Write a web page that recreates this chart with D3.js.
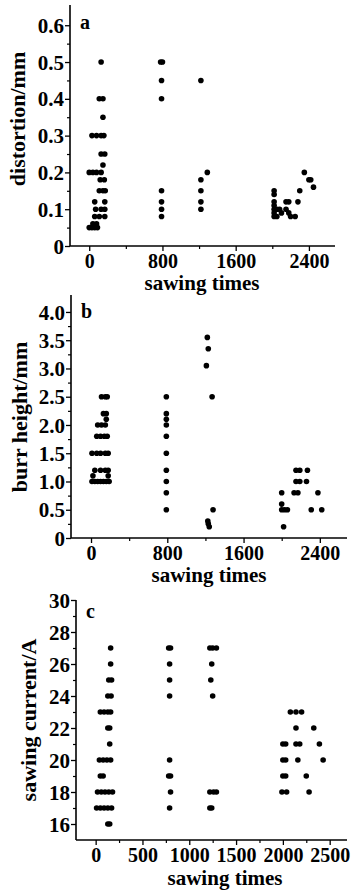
<!DOCTYPE html>
<html>
<head>
<meta charset="utf-8">
<script src="https://cdn.jsdelivr.net/npm/d3@7"></script>
<style>
  body { margin: 0; background: #fff; }
  svg text { font-family: "Liberation Serif", "Times New Roman", serif; font-weight: bold; fill: #000; }
</style>
</head>
<body>
<svg id="chart" width="352" height="894"></svg>
<script>
(function() {

  // [sawing times, value]
  var distortionPoints = [
    [130, 0.50], [110, 0.40], [150, 0.40], [150, 0.35],
    [30, 0.30], [80, 0.30], [130, 0.30], [160, 0.30],
    [130, 0.25], [170, 0.25], [150, 0.22],
    [0, 0.20], [40, 0.20], [80, 0.20], [130, 0.20],
    [120, 0.18], [165, 0.18], [110, 0.15], [150, 0.15], [175, 0.15],
    [60, 0.12], [170, 0.12], [70, 0.10], [130, 0.10], [170, 0.10],
    [60, 0.08], [110, 0.08], [170, 0.08], [40, 0.06], [80, 0.06],
    [0, 0.05], [30, 0.05], [60, 0.05], [90, 0.05],
    [780, 0.50], [800, 0.50], [790, 0.45], [790, 0.40],
    [790, 0.15], [790, 0.12], [790, 0.10], [790, 0.08],
    [1220, 0.45], [1220, 0.18], [1290, 0.20], [1220, 0.15], [1220, 0.12], [1220, 0.10],
    [2020, 0.15], [2020, 0.14], [2020, 0.12], [2020, 0.11], [2020, 0.10], [2020, 0.09], [2020, 0.08],
    [2050, 0.10], [2050, 0.08], [2080, 0.10], [2100, 0.09], [2150, 0.12], [2180, 0.12],
    [2150, 0.10], [2180, 0.09], [2200, 0.08], [2250, 0.08], [2280, 0.12], [2300, 0.15],
    [2350, 0.20], [2400, 0.18], [2420, 0.18], [2450, 0.16]
  ];

  var burrPoints = [
    [110, 2.5], [150, 2.5], [170, 2.5], [130, 2.2], [160, 2.2], [160, 2.1],
    [70, 2.0], [110, 2.0], [150, 2.0], [60, 1.8], [100, 1.8], [140, 1.8], [170, 1.8],
    [10, 1.5], [60, 1.5], [100, 1.5], [150, 1.5], [180, 1.5],
    [40, 1.2], [100, 1.2], [150, 1.2], [180, 1.2], [20, 1.1], [180, 1.1],
    [10, 1.0], [40, 1.0], [70, 1.0], [100, 1.0], [130, 1.0], [160, 1.0], [190, 1.0],
    [790, 2.5], [790, 2.2], [790, 2.1], [790, 2.0], [790, 1.8], [790, 1.5],
    [790, 1.2], [790, 1.0], [790, 0.8], [790, 0.5],
    [1220, 3.55], [1230, 3.35], [1210, 3.05], [1270, 2.5], [1280, 0.5],
    [1225, 0.3], [1230, 0.25], [1240, 0.2],
    [2000, 0.8], [2000, 0.6], [2000, 0.5], [2030, 0.5], [2060, 0.5], [2020, 0.2],
    [2130, 0.8], [2170, 0.8], [2150, 1.0], [2190, 1.0], [2260, 1.0],
    [2150, 1.2], [2190, 1.2], [2270, 1.2], [2380, 0.8], [2310, 0.5], [2420, 0.5]
  ];

  var currentPoints = [
    [160, 27], [160, 26], [140, 25], [170, 25], [130, 24], [165, 24],
    [50, 23], [90, 23], [130, 23], [160, 23], [130, 22], [150, 22], [150, 21],
    [40, 20], [80, 20], [120, 20], [160, 20], [50, 19], [80, 19],
    [20, 18], [60, 18], [100, 18], [140, 18], [180, 18],
    [10, 17], [50, 17], [90, 17], [130, 17], [170, 17], [130, 16], [150, 16],
    [780, 27], [800, 27], [790, 26], [790, 25], [790, 24], [790, 20],
    [780, 19], [800, 19], [800, 18], [790, 17],
    [1220, 27], [1250, 27], [1290, 27], [1240, 26], [1230, 25], [1250, 24],
    [1220, 18], [1260, 18], [1290, 18], [1220, 17], [1240, 17],
    [2080, 23], [2140, 23], [2200, 23], [2140, 22], [2330, 22],
    [2000, 21], [2030, 21], [2140, 21], [2180, 21], [2390, 21],
    [2000, 20], [2030, 20], [2160, 20], [2430, 20],
    [2000, 19], [2030, 19], [2250, 19], [1990, 18], [2040, 18], [2280, 18]
  ];

  var timeTicksAB = [0, 800, 1600, 2400],
      timeMinorAB = [400, 1200, 2000],
      timeTicksC = [0, 500, 1000, 1500, 2000, 2500],
      timeMinorC = [250, 750, 1250, 1750, 2250];

  var distortionTicks = [0, 0.1, 0.2, 0.3, 0.4, 0.5, 0.6],
      distortionMinor = [0.05, 0.15, 0.25, 0.35, 0.45, 0.55],
      burrTicks = [0, 0.5, 1.0, 1.5, 2.0, 2.5, 3.0, 3.5, 4.0],
      burrMinor = [0.25, 0.75, 1.25, 1.75, 2.25, 2.75, 3.25, 3.75],
      currentTicks = [16, 18, 20, 22, 24, 26, 28, 30],
      currentMinor = [17, 19, 21, 23, 25, 27, 29];

  var svg = d3.select("#chart");

  var panels = [
    { letter: "a", data: distortionPoints, yLabel: "distortion/mm",
      x0: 70, x1: 335, y0: 246, y1: 5, yDomain: [0, 0.655],
      yTicks: distortionTicks, yMinor: distortionMinor,
      yFormat: d => d === 0 ? "0" : d3.format(".1f")(d),
      xTicks: timeTicksAB, xMinor: timeMinorAB,
      yLabelX: 25, yLabelY: 119, xLabelX: 202, xLabelY: 290, letterY: 29 },
    { letter: "b", data: burrPoints, yLabel: "burr height/mm",
      x0: 71, x1: 347, y0: 538, y1: 295, yDomain: [0, 4.3],
      yTicks: burrTicks, yMinor: burrMinor,
      yFormat: d => d === 0 ? "0" : d3.format(".1f")(d),
      xTicks: timeTicksAB, xMinor: timeMinorAB,
      yLabelX: 27, yLabelY: 417, xLabelX: 209, xLabelY: 582, letterY: 318 },
    { letter: "c", data: currentPoints, yLabel: "sawing current/A",
      x0: 76, x1: 347, y0: 840, y1: 600, yDomain: [15, 30],
      yTicks: currentTicks, yMinor: currentMinor,
      yFormat: d3.format("d"),
      xTicks: timeTicksC, xMinor: timeMinorC,
      yLabelX: 36, yLabelY: 720, xLabelX: 225, xLabelY: 885, letterY: 618 }
  ];

  panels.forEach(drawPanel);

  function drawPanel(p) {
    var x = d3.scaleLinear().domain([-210, 2685]).range([p.x0, p.x1]);
    var y = d3.scaleLinear().domain(p.yDomain).range([p.y0, p.y1]);

    var g = svg.append("g");

    // minor ticks first, then the labelled axis
    g.append("g")
        .attr("transform", "translate(0," + p.y0 + ")")
        .call(d3.axisBottom(x).tickValues(p.xMinor).tickSize(3).tickFormat(""))
        .call(cleanAxis);

    g.append("g")
        .attr("transform", "translate(" + p.x0 + ",0)")
        .call(d3.axisLeft(y).tickValues(p.yMinor).tickSize(3).tickFormat(""))
        .call(cleanAxis);

    var xAxis = g.append("g")
        .attr("transform", "translate(0," + p.y0 + ")")
        .call(d3.axisBottom(x).tickValues(p.xTicks).tickSize(5).tickSizeOuter(0).tickFormat(d3.format("d")));

    xAxis.selectAll("text")
        .attr("y", 22)
        .attr("dy", 0)
        .style("font-size", "20px");

    var yAxis = g.append("g")
        .attr("transform", "translate(" + p.x0 + ",0)")
        .call(d3.axisLeft(y).tickValues(p.yTicks).tickSize(5).tickSizeOuter(0).tickFormat(p.yFormat));

    yAxis.selectAll("text")
        .attr("x", -6)
        .attr("dy", "0.34em")
        .style("font-size", "21px");

    [xAxis, yAxis].forEach(a => {
      a.select(".domain").attr("stroke", "#000").attr("stroke-width", 1.6);
      a.selectAll(".tick line").attr("stroke", "#000").attr("stroke-width", 1.3);
      a.attr("font-family", null).attr("font-size", null);
    });

    // axes run the full plot extent
    yAxis.select(".domain").attr("d", "M0," + p.y0 + "V" + p.y1);
    xAxis.select(".domain").attr("d", "M" + p.x0 + ",0H" + p.x1);

    g.append("g").selectAll("circle")
        .data(p.data)
      .enter().append("circle")
        .attr("cx", d => x(d[0]))
        .attr("cy", d => y(d[1]))
        .attr("r", 2.8)
        .attr("fill", "#000");

    g.append("text")
        .attr("x", p.x0 + 10)
        .attr("y", p.letterY)
        .style("font-size", "20px")
        .text(p.letter);

    g.append("text")
        .attr("text-anchor", "middle")
        .attr("x", p.xLabelX)
        .attr("y", p.xLabelY)
        .style("font-size", "21px")
        .text("sawing times");

    g.append("text")
        .attr("text-anchor", "middle")
        .attr("transform", "translate(" + p.yLabelX + "," + p.yLabelY + ") rotate(-90)")
        .style("font-size", "22px")
        .text(p.yLabel);
  }

  function cleanAxis(a) {
    a.select(".domain").remove();
    a.selectAll(".tick line").attr("stroke", "#000").attr("stroke-width", 1.2);
  }

})();
</script>
</body>
</html>
